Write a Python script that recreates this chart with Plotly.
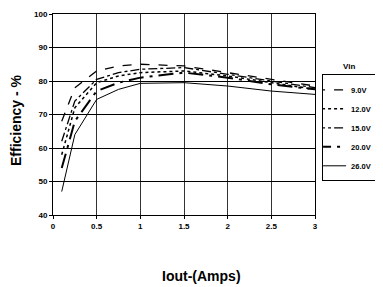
import plotly.graph_objects as go

iout = [0.1, 0.25, 0.5, 0.75, 1.0, 1.5, 2.0, 2.5, 3.0]
eff_9v = [68, 78, 83, 84.5, 85, 84.5, 82.5, 80.5, 78.5]
eff_12v = [58, 72, 79.5, 81.5, 82.5, 83, 81.5, 79.5, 77.5]
eff_15v = [62, 74, 80.5, 82.5, 83.5, 84, 82, 80, 78]
eff_20v = [54, 68, 77, 79.5, 81, 82.5, 81, 79, 77.5]
eff_26v = [47, 64, 74.5, 77.5, 79.3, 79.5, 78.5, 77, 76]
series_names = ["9.0V", "12.0V", "15.0V", "20.0V", "26.0V"]
x_ticks = [0, 0.5, 1, 1.5, 2, 2.5, 3]
x_tick_labels = ["0", "0.5", "1", "1.5", "2", "2.5", "3"]
y_ticks = [40, 50, 60, 70, 80, 90, 100]

series = [eff_9v, eff_12v, eff_15v, eff_20v, eff_26v]
dashes = ["dash", "dot", "dashdot", "longdashdot", "solid"]
widths = [1.3, 1.5, 1.3, 2, 1]

fig = go.Figure()
for name, ys, d, w in zip(series_names, series, dashes, widths):
    fig.add_trace(go.Scatter(x=iout, y=ys, name=name, mode="lines",
                             line=dict(color="black", dash=d, width=w)))

font_family = "Liberation Sans, Arial, sans-serif"
fig.update_layout(
    width=375, height=279,
    margin=dict(l=45, r=68, t=6, b=72, autoexpand=False),
    paper_bgcolor="white", plot_bgcolor="white",
    font=dict(family=font_family, color="black", size=8),
    showlegend=True,
    legend=dict(x=1.027, y=0.70, xanchor="left", yanchor="top",
                bordercolor="black", borderwidth=1, bgcolor="white",
                font=dict(size=7.5, family=font_family, weight="bold"),
                itemwidth=30, tracegroupgap=0, indentation=-12),
    annotations=[
        dict(text="<b>Vin</b>", x=1.13, y=0.741, xref="paper", yref="paper",
             showarrow=False, font=dict(size=8), xanchor="center", yanchor="middle"),
        dict(text="<b>Iout-(Amps)</b>", x=0.565, y=-0.352, xref="paper", yref="paper",
             showarrow=False, font=dict(size=14), xanchor="center", yanchor="bottom"),
        dict(text="<b>Efficiency - %</b>", x=0, xshift=-37.5, y=0.47,
             xref="paper", yref="paper", textangle=-90,
             showarrow=False, font=dict(size=14), xanchor="center", yanchor="middle"),
    ],
)
fig.update_xaxes(range=[0, 3], tickvals=x_ticks, ticktext=x_tick_labels,
                 showgrid=True, gridcolor="#333", gridwidth=1,
                 showline=True, linecolor="black", linewidth=1, mirror=True,
                 ticks="outside", ticklen=3, tickcolor="black",
                 tickfont=dict(size=8, weight="bold"), zeroline=False)
fig.update_yaxes(range=[40, 100], tickvals=y_ticks,
                 showgrid=True, gridcolor="black", gridwidth=1,
                 showline=True, linecolor="black", linewidth=1, mirror=True,
                 ticks="outside", ticklen=3, tickcolor="black",
                 tickfont=dict(size=8, weight="bold"), zeroline=False)

fig.write_html("out.html")
